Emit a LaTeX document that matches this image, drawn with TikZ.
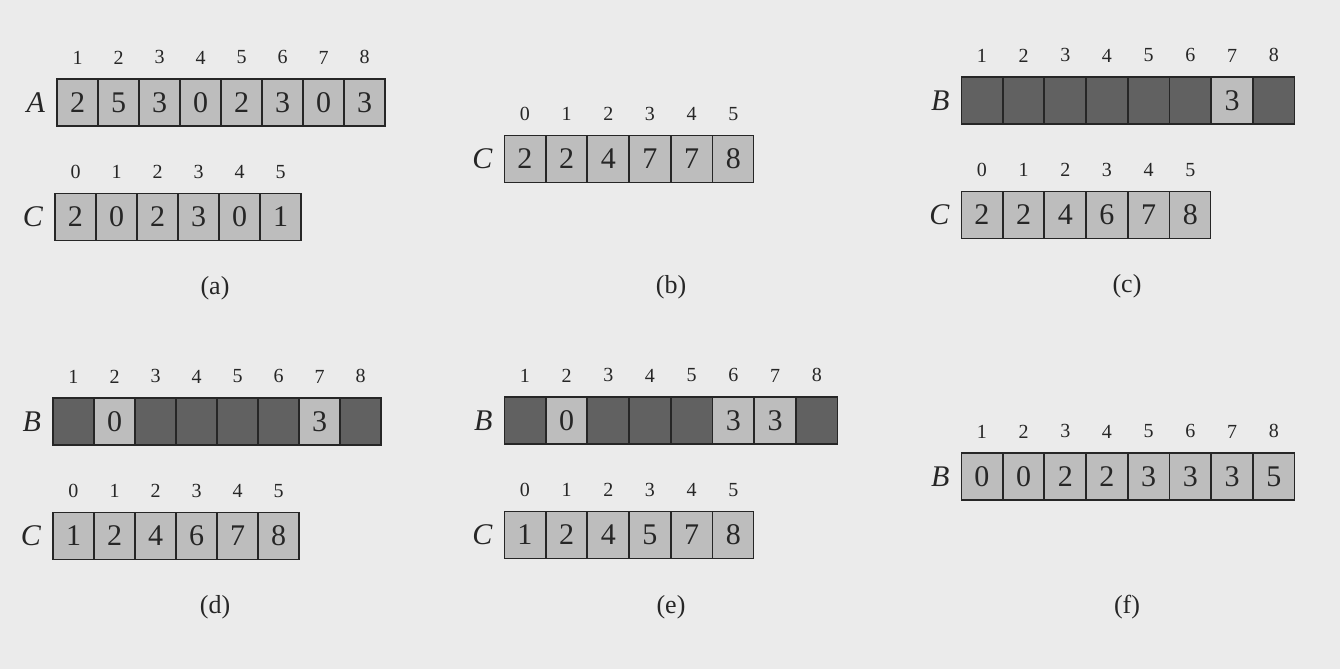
\documentclass[tikz,border=0pt]{standalone}
\usepackage{fontspec}
\setmainfont{Liberation Serif}
\usepackage{xcolor}
\usetikzlibrary{positioning}

\definecolor{pagegray}{gray}{0.92}
\definecolor{cellgray}{gray}{0.74}
\definecolor{voidgray}{gray}{0.38}
\definecolor{inkgray}{gray}{0.15}

\begin{document}
\begin{tikzpicture}[
    x=0.5pt, y=-0.5pt,
    cellbox/.style={rectangle, draw=inkgray, line width=0.6pt, fill=cellgray, minimum width=20.5pt, minimum height=23.5pt, inner sep=0pt, text=inkgray, font=\fontsize{15}{15}\selectfont},
    idx/.style={inner sep=0pt, text=inkgray, font=\fontsize{10}{10}\selectfont},
    arrname/.style={inner sep=0pt, text=inkgray, font=\fontsize{15}{15}\selectfont\itshape},
    caption/.style={inner sep=0pt, text=inkgray, font=\fontsize{13}{13}\selectfont}
]
    \fill [pagegray] (0,0) rectangle (1340,669);
    \useasboundingbox (0,0) rectangle (1340,669);

    % (a) input A and counts C
    \foreach \v [count=\i] in {2,5,3,0,2,3,0,3} {
        \node [cellbox] (a\i) at ({57+(\i-0.5)*41},102.5) {\v};
        \node [idx, above=7pt of a\i] (ia\i) {\i};
    }
    \node [arrname, left=5.5pt of a1] (la) {A};
    \foreach \v [count=\i from 0] in {2,0,2,3,0,1} {
        \node [cellbox] (ca\i) at ({55+(\i+0.5)*41},217) {\v};
        \node [idx, above=7pt of ca\i] (ica\i) {\i};
    }
    \node [arrname, left=5.5pt of ca0] (lca) {C};
    \node [caption] (capa) at (215,288) {(a)};

    % (b) running sums
    \foreach \v [count=\i from 0] in {2,2,4,7,7,8} {
        \node [cellbox] (cb\i) at ({504+(\i+0.5)*41.7},159) {\v};
        \node [idx, above=7pt of cb\i] (icb\i) {\i};
    }
    \node [arrname, left=5.5pt of cb0] (lcb) {C};
    \node [caption] (capb) at (671,287) {(b)};

    % (c)
    \foreach \f/\v [count=\i] in {voidgray/{},voidgray/{},voidgray/{},voidgray/{},voidgray/{},voidgray/{},cellgray/3,voidgray/{}} {
        \node [cellbox, fill=\f] (bc\i) at ({961+(\i-0.5)*41.7},100.5) {\v};
        \node [idx, above=7pt of bc\i] (ibc\i) {\i};
    }
    \node [arrname, left=5.5pt of bc1] (lbc) {B};
    \foreach \v [count=\i from 0] in {2,2,4,6,7,8} {
        \node [cellbox] (cc\i) at ({961+(\i+0.5)*41.7},215) {\v};
        \node [idx, above=7pt of cc\i] (icc\i) {\i};
    }
    \node [arrname, left=5.5pt of cc0] (lcc) {C};
    \node [caption] (capc) at (1127,286) {(c)};

    % (d)
    \foreach \f/\v [count=\i] in {voidgray/{},cellgray/0,voidgray/{},voidgray/{},voidgray/{},voidgray/{},cellgray/3,voidgray/{}} {
        \node [cellbox, fill=\f] (bd\i) at ({53+(\i-0.5)*41},421.5) {\v};
        \node [idx, above=7pt of bd\i] (ibd\i) {\i};
    }
    \node [arrname, left=5.5pt of bd1] (lbd) {B};
    \foreach \v [count=\i from 0] in {1,2,4,6,7,8} {
        \node [cellbox] (cd\i) at ({53+(\i+0.5)*41},536) {\v};
        \node [idx, above=7pt of cd\i] (icd\i) {\i};
    }
    \node [arrname, left=5.5pt of cd0] (lcd) {C};
    \node [caption] (capd) at (215,607) {(d)};

    % (e)
    \foreach \f/\v [count=\i] in {voidgray/{},cellgray/0,voidgray/{},voidgray/{},voidgray/{},cellgray/3,cellgray/3,voidgray/{}} {
        \node [cellbox, fill=\f] (be\i) at ({504+(\i-0.5)*41.7},420.5) {\v};
        \node [idx, above=7pt of be\i] (ibe\i) {\i};
    }
    \node [arrname, left=5.5pt of be1] (lbe) {B};
    \foreach \v [count=\i from 0] in {1,2,4,5,7,8} {
        \node [cellbox] (ce\i) at ({504+(\i+0.5)*41.7},535) {\v};
        \node [idx, above=7pt of ce\i] (ice\i) {\i};
    }
    \node [arrname, left=5.5pt of ce0] (lce) {C};
    \node [caption] (cape) at (671,607) {(e)};

    % (f) sorted output
    \foreach \v [count=\i] in {0,0,2,2,3,3,3,5} {
        \node [cellbox] (bf\i) at ({961+(\i-0.5)*41.7},476.5) {\v};
        \node [idx, above=7pt of bf\i] (ibf\i) {\i};
    }
    \node [arrname, left=5.5pt of bf1] (lbf) {B};
    \node [caption] (capf) at (1127,607) {(f)};
\end{tikzpicture}
\end{document}
